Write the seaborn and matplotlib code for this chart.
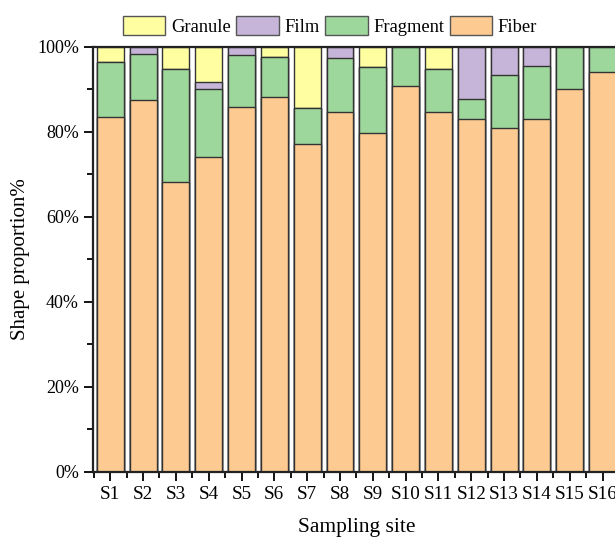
import matplotlib
matplotlib.use("Agg")
import matplotlib.pyplot as plt
import matplotlib.ticker as ticker
from matplotlib.patches import Patch
import numpy as np
import pandas as pd
import seaborn as sns

sites = ["S%d" % i for i in range(1, 17)]
fiber    = [83.6, 87.5, 68.3, 74.2, 85.8, 88.3, 77.2, 84.7, 79.7, 90.7, 84.8, 83.1, 81.0, 83.1, 90.1, 94.2]
fragment = [12.9, 10.9, 26.4, 15.9, 12.2,  9.3,  8.4, 12.6, 15.7,  9.3,  9.9,  4.7, 12.5, 12.5,  9.9,  5.8]
film     = [ 0.0,  1.6,  0.0,  1.6,  2.0,  0.0,  0.0,  2.7,  0.0,  0.0,  0.0, 12.2,  6.5,  4.4,  0.0,  0.0]
granule  = [ 3.5,  0.0,  5.3,  8.3,  0.0,  2.4, 14.4,  0.0,  4.6,  0.0,  5.3,  0.0,  0.0,  0.0,  0.0,  0.0]

shapes = ["Granule", "Film", "Fragment", "Fiber"]
colors = {"Granule": "#FFFFA2", "Film": "#C6B5D9", "Fragment": "#9ED79C", "Fiber": "#FDCB92"}

df = pd.DataFrame({"site": sites, "Fiber": fiber, "Fragment": fragment,
                   "Film": film, "Granule": granule})
tot = df[shapes].sum(axis=1)
for s in shapes:
    df[s] = df[s] / tot * 100
# cumulative heights, drawn from the top layer down
df["c_Fiber"] = df["Fiber"]
df["c_Fragment"] = df["c_Fiber"] + df["Fragment"]
df["c_Film"] = df["c_Fragment"] + df["Film"]
df["c_Granule"] = df["c_Film"] + df["Granule"]

plt.rcParams["font.family"] = ["Liberation Serif", "DejaVu Serif"]
fig = plt.figure(figsize=(6.15, 5.38), dpi=100)
ax = fig.add_axes([0.151, 0.1227, 0.857, 0.79])

for s in shapes:
    sns.barplot(data=df, x="site", y="c_" + s, color=colors[s], width=0.82,
                edgecolor="#333333", linewidth=1.0, saturation=1, ax=ax)

ax.set_xlim(-0.53, 15.53)
ax.set_ylim(0, 100)
ax.yaxis.set_major_locator(ticker.MultipleLocator(20))
ax.yaxis.set_minor_locator(ticker.MultipleLocator(10))
ax.yaxis.set_major_formatter(ticker.FuncFormatter(lambda v, p: "%d%%" % v))
ax.xaxis.set_minor_locator(ticker.FixedLocator(np.arange(-0.5, 16, 1)))
ax.tick_params(axis="both", which="major", direction="out", length=6.5, width=1.3)
ax.tick_params(axis="both", which="minor", direction="out", length=4, width=1.3)
ax.tick_params(axis="x", which="major", labelsize=13.8)
ax.tick_params(axis="y", which="major", labelsize=13)
ax.set_xlabel("Sampling site", fontsize=15.5, labelpad=11)
ax.set_ylabel("Shape proportion%", fontsize=15, labelpad=5)
for sp in ax.spines.values():
    sp.set_linewidth(1.6)
    sp.set_color("#222222")

handles = [Patch(facecolor=colors[s], edgecolor="#555555", linewidth=1.0, label=s) for s in shapes]
ax.legend(handles=handles, loc="center", bbox_to_anchor=(0.45, 1.05), ncol=4, frameon=False,
          fontsize=13.3, handlelength=2.3, handleheight=1.25, handletextpad=0.3, columnspacing=0.3)

fig.savefig("out.png", dpi=100)
